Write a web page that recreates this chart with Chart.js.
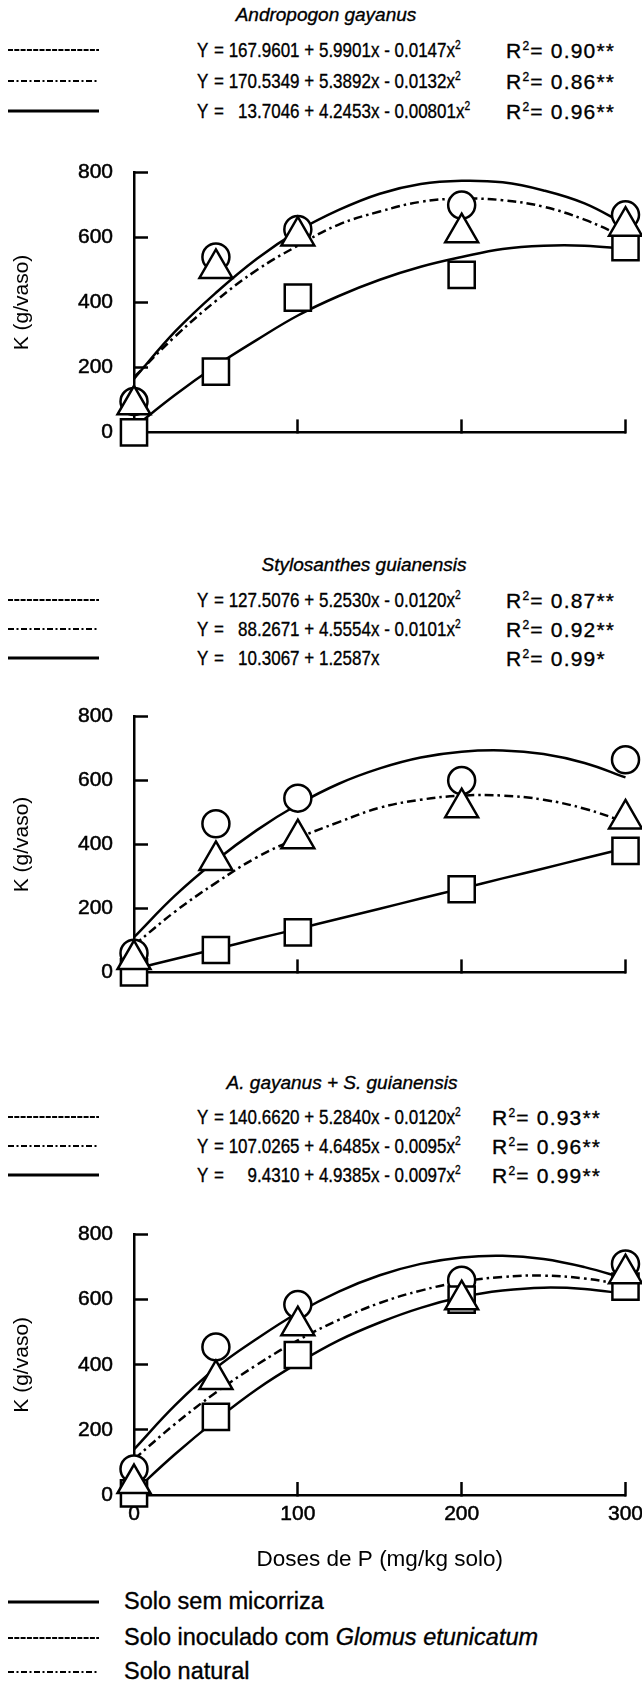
<!DOCTYPE html>
<html>
<head>
<meta charset="utf-8">
<script src="https://cdn.jsdelivr.net/npm/chart.js@4.4.1/dist/chart.umd.min.js"></script>
<style>
  html, body { margin: 0; padding: 0; background: #fff; }
  body { width: 642px; height: 1688px; position: relative; overflow: hidden;
         font-family: "Liberation Sans", Arial, Helvetica, sans-serif; color: #000; }
  .abs { position: absolute; white-space: pre; line-height: 1; -webkit-text-stroke: 0.35px #000; }
  .title { font-style: italic; font-size: 19px; transform: translate(-50%, -50%); }
  .eq { font-size: 20px; transform: translateY(-50%) scaleX(0.85); transform-origin: 0 50%; }
  .r2 { font-size: 21px; letter-spacing: 1.2px; transform: translateY(-50%); }
  .eq sup, .r2 sup { font-size: 12px; vertical-align: 8px; line-height: 0; }
  .leg { font-size: 23.5px; transform: translateY(-50%); }
  svg.sample { position: absolute; }
  canvas { position: absolute; }
</style>
</head>
<body>
<div id="page"></div>
<canvas id="c1"></canvas>
<canvas id="c2"></canvas>
<canvas id="c3"></canvas>
<script>
// doses of P where K was measured, and the x grid of the fitted curves
const doses = [0, 50, 100, 200, 300];
const fitDoses = [0, 25, 50, 75, 100, 125, 150, 175, 200, 225, 250, 275, 300];
const yTicks = [0, 200, 400, 600, 800];
const xTicks = [0, 100, 200, 300];

// Andropogon gayanus
const agInoculado = [95, 540, 625, 700, 670];
const agNatural = [85, 505, 605, 615, 635];
const agSemMic = [0, 187, 415, 485, 570];
const agFitInoculado = [165, 310, 430, 535, 620, 685, 735, 765, 775, 770, 745, 705, 640];
const agFitNatural = [170, 295, 405, 500, 575, 640, 680, 710, 720, 715, 695, 655, 600];
const agFitSemMic = [15, 115, 205, 285, 360, 420, 470, 510, 540, 565, 575, 575, 565];

// Stylosanthes guianensis
const sgInoculado = [60, 465, 545, 600, 665];
const sgNatural = [40, 350, 418, 515, 480];
const sgSemMic = [0, 70, 125, 260, 380];
const sgFitInoculado = [110, 240, 350, 445, 525, 590, 638, 672, 690, 694, 683, 655, 610];
const sgFitNatural = [85, 190, 280, 360, 420, 470, 515, 540, 553, 553, 540, 512, 470];
const sgFitSemMic = [10, 42, 73, 105, 136, 168, 199, 231, 262, 294, 325, 357, 388];

// A. gayanus + S. guianensis
const mixInoculado = [80, 455, 585, 660, 710];
const mixNatural = [35, 355, 520, 600, 680];
const mixSemMic = [5, 240, 430, 600, 640];
const mixFitInoculado = [140, 275, 390, 480, 560, 625, 675, 710, 730, 735, 725, 700, 665];
const mixFitNatural = [110, 218, 315, 400, 475, 538, 590, 628, 655, 670, 674, 665, 645];
const mixFitSemMic = [10, 125, 230, 325, 405, 475, 530, 575, 608, 628, 637, 633, 618];

const titles = ['Andropogon gayanus', 'Stylosanthes guianensis', 'A. gayanus + S. guianensis'];
const equations = [
  ['= 167.9601 + 5.9901x - 0.0147x', '= 170.5349 + 5.3892x - 0.0132x', '=   13.7046 + 4.2453x - 0.00801x'],
  ['= 127.5076 + 5.2530x - 0.0120x', '=   88.2671 + 4.5554x - 0.0101x', '=   10.3067 + 1.2587x'],
  ['= 140.6620 + 5.2840x - 0.0120x', '= 107.0265 + 4.6485x - 0.0095x', '=     9.4310 + 4.9385x - 0.0097x']
];
const squared = [[true, true, true], [true, true, false], [true, true, true]];
const r2 = [
  ['0.90**', '0.86**', '0.96**'],
  ['0.87**', '0.92**', '0.99*'],
  ['0.93**', '0.96**', '0.99**']
];
const legendLabels = ['Solo sem micorriza', 'Solo inoculado com <i>Glomus etunicatum</i>', 'Solo natural'];

// layout of the three panels (px): plot area top (800) and bottom (0)
const AREA_LEFT = 134, AREA_RIGHT = 625;
const panels = [
  { top: 173, bottom: 433, titleY: 14, titleX: 326, rowY: [50, 81, 111], r2X: 506 },
  { top: 717, bottom: 973, titleY: 564, titleX: 364, rowY: [600, 629, 658], r2X: 506 },
  { top: 1235, bottom: 1495, titleY: 1082, titleX: 342, rowY: [1117, 1146, 1175], r2X: 492 }
];

const DASH_DOT = [9, 4, 2.5, 4];
const page = document.getElementById('page');

function sample(style, y) {
  let dash = '', w = 3;
  if (style === 'fine') { dash = '5 1.3'; w = 2; }
  if (style === 'dashdot') { dash = '6 2.5 2 2.5'; w = 2; }
  const svg = `<svg class="sample" width="92" height="8" style="left:8px;top:${y - 4}px">
    <line x1="0" y1="4" x2="91" y2="4" stroke="#000" stroke-width="${w}" stroke-dasharray="${dash}"/></svg>`;
  page.insertAdjacentHTML('beforeend', svg);
}

function text(cls, x, y, html) {
  page.insertAdjacentHTML('beforeend', `<div class="abs ${cls}" style="left:${x}px;top:${y}px">${html}</div>`);
}

const rowStyles = ['fine', 'dashdot', 'solid'];
panels.forEach((p, i) => {
  text('title', p.titleX, p.titleY, titles[i]);
  p.rowY.forEach((y, j) => {
    sample(rowStyles[j], y);
    text('eq', 197, y, 'Y');
    text('eq', 214, y, equations[i][j] + (squared[i][j] ? '<sup>2</sup>' : ''));
    text('r2', p.r2X, y, 'R<sup>2</sup>= ' + r2[i][j]);
  });
});

const legendY = [1602, 1638, 1672];
['solid', 'fine', 'dashdot'].forEach((s, j) => {
  sample(s, legendY[j]);
  text('leg', 124, legendY[j], legendLabels[j]);
});

function pts(xs, ys) { return xs.map((x, i) => ({ x: x, y: ys[i] })); }

function curve(ys, dash) {
  return {
    data: pts(fitDoses, ys), borderColor: '#000', borderWidth: 2.5, borderDash: dash || [],
    pointRadius: 0, tension: 0.4, fill: false, order: 3, clip: false
  };
}

function markers(ys, style, r, order) {
  return {
    data: pts(doses, ys), showLine: false, pointStyle: style, pointRadius: r,
    pointBackgroundColor: '#fff', pointBorderColor: '#000', pointBorderWidth: 2.5,
    order: order, clip: false
  };
}

const axisFont = { family: '"Liberation Sans", Arial, sans-serif', size: 21 };
const titleFont = { family: '"Liberation Sans", Arial, sans-serif', size: 22.5 };

function config(series, last) {
  const xh = last ? 80 : 40;
  return {
    type: 'line',
    data: {
      datasets: [
        curve(series.fitInoculado),
        curve(series.fitNatural, DASH_DOT),
        curve(series.fitSemMic),
        markers(series.inoculado, 'circle', 13.5, 2),
        markers(series.semMic, 'rect', 18.5, 1),
        markers(series.natural, 'triangle', 19, 0)
      ]
    },
    options: {
      responsive: false,
      animation: false,
      events: [],
      layout: { padding: { top: 20, right: 20, left: 0, bottom: 0 } },
      plugins: { legend: { display: false }, tooltip: { enabled: false } },
      scales: {
        x: {
          type: 'linear', min: 0, max: 300,
          afterFit: s => { s.height = xh; },
          afterBuildTicks: s => { s.ticks = xTicks.map(v => ({ value: v })); },
          border: { color: '#000', width: 2.5 },
          grid: { drawOnChartArea: false, tickLength: -13, tickWidth: 2.5, tickColor: '#000' },
          ticks: { display: last, color: '#000', font: axisFont, padding: 20, maxRotation: 0,
                   textStrokeColor: '#000', textStrokeWidth: 0.5 },
          title: { display: last, text: 'Doses de P (mg/kg solo)', color: '#000', font: titleFont, padding: { top: 0, bottom: 2 } }
        },
        y: {
          type: 'linear', min: 0, max: 800,
          afterFit: s => { s.width = AREA_LEFT; },
          afterBuildTicks: s => { s.ticks = yTicks.map(v => ({ value: v })); },
          border: { color: '#000', width: 2.5 },
          grid: { drawOnChartArea: false, tickLength: -14, tickWidth: 2.5, tickColor: '#000' },
          ticks: { color: '#000', font: axisFont, padding: 35, textStrokeColor: '#000', textStrokeWidth: 0.5 },
          title: { display: true, text: 'K (g/vaso)', color: '#000', font: axisFont, padding: { top: 10, bottom: 0 } }
        }
      }
    }
  };
}

// build the chart, then resize and move the canvas so the plot area lands where the panel needs it
function makeChart(id, p, series, last) {
  const canvas = document.getElementById(id);
  let w = 642, h = (p.bottom - p.top) + 20 + (last ? 80 : 40);
  let chart = null;
  for (let k = 0; k < 4; k++) {
    if (chart) chart.destroy();
    canvas.width = w; canvas.height = h;
    canvas.style.width = w + 'px'; canvas.style.height = h + 'px';
    chart = new Chart(canvas, config(series, last));
    const ca = chart.chartArea;
    const dw = (AREA_RIGHT - AREA_LEFT) - (ca.right - ca.left);
    const dh = (p.bottom - p.top) - (ca.bottom - ca.top);
    if (Math.abs(dw) < 0.5 && Math.abs(dh) < 0.5) break;
    w = Math.round(w + dw); h = Math.round(h + dh);
  }
  const ca = chart.chartArea;
  canvas.style.left = (AREA_LEFT - ca.left) + 'px';
  canvas.style.top = (p.top - ca.top) + 'px';
}

makeChart('c1', panels[0], {
  inoculado: agInoculado, natural: agNatural, semMic: agSemMic,
  fitInoculado: agFitInoculado, fitNatural: agFitNatural, fitSemMic: agFitSemMic
}, false);
makeChart('c2', panels[1], {
  inoculado: sgInoculado, natural: sgNatural, semMic: sgSemMic,
  fitInoculado: sgFitInoculado, fitNatural: sgFitNatural, fitSemMic: sgFitSemMic
}, false);
makeChart('c3', panels[2], {
  inoculado: mixInoculado, natural: mixNatural, semMic: mixSemMic,
  fitInoculado: mixFitInoculado, fitNatural: mixFitNatural, fitSemMic: mixFitSemMic
}, true);
</script>
</body>
</html>
